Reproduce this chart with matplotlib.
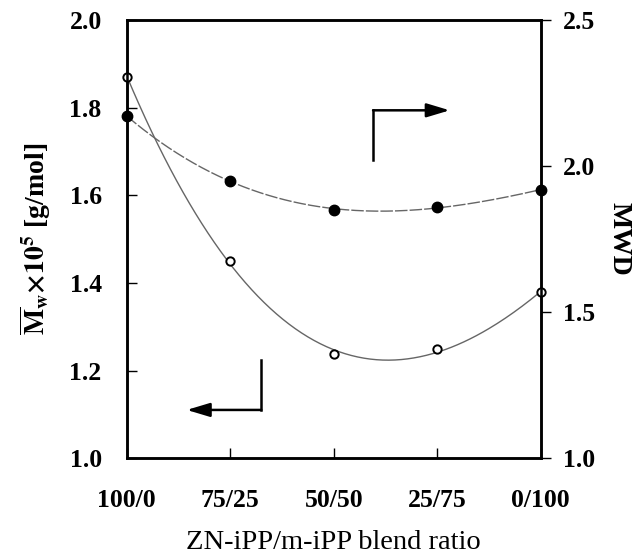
import numpy as np
import matplotlib
matplotlib.use('Agg')
import matplotlib.pyplot as plt

plt.rcParams['font.family'] = ['Liberation Serif', 'DejaVu Serif']
plt.rcParams['mathtext.fontset'] = 'stix'

# blend ratios (ZN-iPP / m-iPP)
ratios = ['100/0', '75/25', '50/50', '25/75', '0/100']
# weight-average molecular weight, x10^5 g/mol (open circles, left axis)
mw = [1.871, 1.449, 1.238, 1.248, 1.379]
# molecular weight distribution (filled circles, right axis)
mwd = [2.171, 1.950, 1.851, 1.859, 1.919]

x = np.arange(len(ratios))
xs = np.linspace(x[0], x[-1], 200)

fig = plt.figure(figsize=(6.4, 5.58), dpi=100)
ax = fig.add_axes([0.198, 0.179, 0.647, 0.785])
ax2 = ax.twinx()

curve_col = '#666666'

# smooth cubic fits through each data set
mw_fit = np.polyval(np.polyfit(x, mw, 3), xs)
mwd_fit = np.polyval(np.polyfit(x, mwd, 3), xs)

ax.plot(xs, mw_fit, color=curve_col, lw=1.0, zorder=2)
ax.plot(x, mw, 'o', ms=6, mfc='white', mec='black', mew=1.4, zorder=3, clip_on=False)

ax2.plot(xs, mwd_fit, color=curve_col, lw=1.0, dashes=(9, 1.5), zorder=2)
ax2.plot(x, mwd, 'o', ms=7.5, mfc='black', mec='black', zorder=3, clip_on=False)

ax.set_xlim(x[0], x[-1])
ax.set_ylim(1.0, 2.0)
ax2.set_ylim(1.0, 2.5)

ax.set_xticks(x)
ax.set_xticklabels(ratios)
ax.set_yticks(np.arange(1.0, 2.01, 0.2))
ax.set_yticklabels([f'{v:.1f}' for v in np.arange(1.0, 2.01, 0.2)])
ax2.set_yticks([1.0, 1.5, 2.0, 2.5])
ax2.set_yticklabels(['1.0', '1.5', '2.0', '2.5'])

for lab in ax.get_xticklabels() + ax.get_yticklabels() + ax2.get_yticklabels():
    lab.set_fontsize(18.5)
    lab.set_fontweight('bold')

ax.tick_params(axis='x', direction='in', length=7, width=1, pad=22)
ax.tick_params(axis='y', direction='in', length=7, width=1, pad=18)
ax2.tick_params(axis='y', direction='out', length=7, width=1, pad=9)

for a in (ax, ax2):
    for sp in a.spines.values():
        sp.set_linewidth(1.8)

ax.set_xlabel('ZN-iPP/m-iPP blend ratio', fontsize=20.5, labelpad=13)
ax.set_ylabel(r'$\overline{\mathbf{M}}_{\mathbf{w}}\mathbf{\times 10^{5}}$ [g/mol]',
              fontsize=20, fontweight='bold', labelpad=12)
ax2.set_ylabel('MWD', fontsize=20, fontweight='bold', rotation=-90, labelpad=26)

# arrows pointing to the axis each curve belongs to
arrow_props = dict(arrowstyle='-|>,head_length=1.0,head_width=0.3', color='black',
                   lw=1.8, mutation_scale=14, shrinkA=0, shrinkB=0)
ax.plot([2.38, 2.38], [1.68, 1.794], color='black', lw=1.8)
ax.annotate('', xy=(3.12, 1.794), xytext=(2.38, 1.794), arrowprops=arrow_props)
ax.plot([1.30, 1.30], [1.224, 1.110], color='black', lw=1.8)
ax.annotate('', xy=(0.58, 1.110), xytext=(1.30, 1.110), arrowprops=arrow_props)

fig.savefig('out.png', dpi=100)
